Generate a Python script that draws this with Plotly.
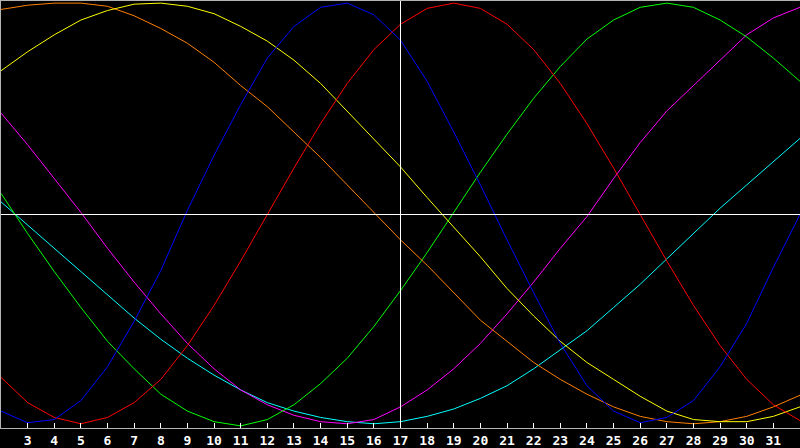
import plotly.graph_objects as go

x_values = list(range(2, 33))
tick_values = list(range(3, 32))
tick_labels = [str(v) for v in tick_values]

orange = [0.97, 0.99, 1.0, 1.0, 0.985, 0.94, 0.88, 0.81, 0.72, 0.61, 0.51, 0.39, 0.27, 0.14, 0.01,
          -0.12, -0.24, -0.37, -0.50, -0.60, -0.70, -0.78, -0.85, -0.91, -0.955, -0.98, -0.99, -0.98,
          -0.955, -0.91, -0.855]
yellow = [0.68, 0.77, 0.85, 0.92, 0.965, 0.995, 1.0, 0.985, 0.95, 0.89, 0.82, 0.73, 0.62, 0.49, 0.36,
          0.225, 0.08, -0.06, -0.20, -0.35, -0.48, -0.60, -0.70, -0.78, -0.86, -0.93, -0.97, -0.98,
          -0.98, -0.955, -0.91]
blue = [-0.93, -0.985, -0.97, -0.88, -0.72, -0.505, -0.265, 0.02, 0.28, 0.52, 0.74, 0.89, 0.98, 1.0,
        0.945, 0.825, 0.63, 0.39, 0.14, -0.12, -0.37, -0.61, -0.81, -0.93, -0.985, -0.96, -0.88, -0.72,
        -0.515, -0.25, 0.0]
red = [-0.77, -0.89, -0.96, -0.99, -0.96, -0.89, -0.78, -0.62, -0.43, -0.22, 0.0, 0.22, 0.43, 0.62,
       0.78, 0.90, 0.975, 1.0, 0.975, 0.90, 0.78, 0.62, 0.43, 0.22, 0.0, -0.22, -0.43, -0.62, -0.78,
       -0.90, -0.975]
green = [0.10, -0.09, -0.27, -0.44, -0.60, -0.73, -0.85, -0.93, -0.98, -1.0, -0.97, -0.90, -0.80,
         -0.68, -0.53, -0.36, -0.18, 0.01, 0.20, 0.38, 0.55, 0.70, 0.83, 0.92, 0.98, 1.0, 0.98, 0.92,
         0.84, 0.74, 0.63]
magenta = [0.48, 0.33, 0.17, 0.01, -0.16, -0.32, -0.47, -0.61, -0.73, -0.83, -0.90, -0.95, -0.98,
           -0.99, -0.97, -0.91, -0.83, -0.73, -0.61, -0.47, -0.32, -0.16, -0.01, 0.17, 0.34, 0.49,
           0.61, 0.73, 0.85, 0.93, 0.98]
cyan = [0.06, -0.05, -0.16, -0.27, -0.38, -0.49, -0.59, -0.68, -0.76, -0.83, -0.89, -0.93, -0.96,
        -0.98, -0.99, -0.98, -0.955, -0.92, -0.87, -0.81, -0.73, -0.64, -0.55, -0.44, -0.33, -0.21,
        -0.09, 0.03, 0.14, 0.25, 0.36]

series = [
    ("cyan", cyan, "#00ffff"),
    ("magenta", magenta, "#ff00ff"),
    ("green", green, "#00ff00"),
    ("orange", orange, "#ff8000"),
    ("yellow", yellow, "#ffff00"),
    ("red", red, "#ff0000"),
    ("blue", blue, "#0000ff"),
]

fig = go.Figure()
for name, vals, color in series:
    fig.add_trace(go.Scatter(x=x_values, y=vals, mode="lines", name=name,
                             line=dict(color=color, width=1), hoverinfo="skip"))

# crosshair
fig.add_shape(type="line", xref="x", yref="paper", x0=17, x1=17, y0=0, y1=1,
              line=dict(color="white", width=1))
fig.add_shape(type="line", xref="paper", yref="y", x0=0, x1=1, y0=0, y1=0,
              line=dict(color="white", width=1))

fig.update_layout(
    width=800, height=448,
    margin=dict(l=1, r=0, t=1, b=20),
    paper_bgcolor="black", plot_bgcolor="black",
    showlegend=False,
    xaxis=dict(range=[2, 32], tickvals=tick_values, ticktext=tick_labels,
               ticks="inside", ticklen=5, tickcolor="white", tickwidth=1,
               showgrid=False, zeroline=False,
               showline=True, linecolor="#b4b4b4", linewidth=1, mirror=True,
               tickfont=dict(family="DejaVu Sans Mono", size=13, color="white", weight="bold")),
    yaxis=dict(range=[-1.01, 1.01], showticklabels=False, ticks="",
               showgrid=False, zeroline=False,
               showline=True, linecolor="#b4b4b4", linewidth=1),
)

fig.write_html("out.html", config={"displayModeBar": False},
               post_script="document.body.style.margin='0';document.body.style.background='black';")
